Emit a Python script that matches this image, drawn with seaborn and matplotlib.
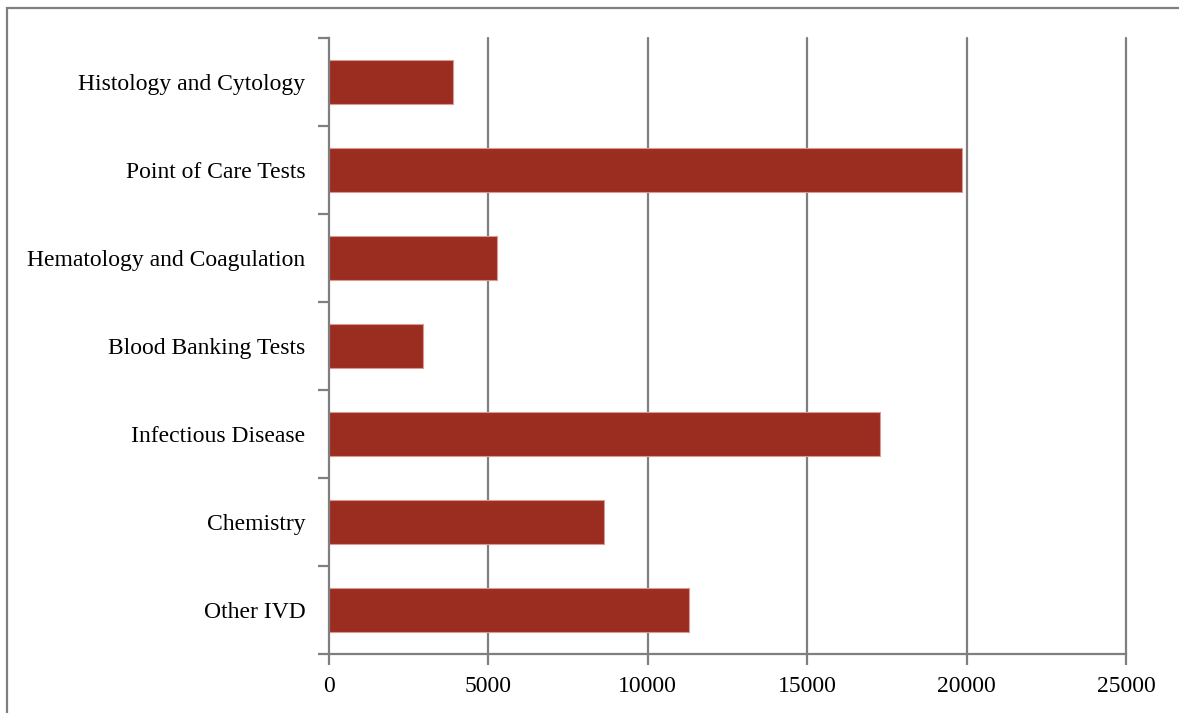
import matplotlib
matplotlib.use("Agg")
import matplotlib.pyplot as plt
import seaborn as sns
import pandas as pd
import numpy as np
from matplotlib.patches import Rectangle
from matplotlib.ticker import FixedLocator

categories = ["Histology and Cytology", "Point of Care Tests", "Hematology and Coagulation",
              "Blood Banking Tests", "Infectious Disease", "Chemistry", "Other IVD"]
values = [3900, 19850, 5280, 2960, 17270, 8630, 11280]
x_ticks = [0, 5000, 10000, 15000, 20000, 25000]

sns.set_theme(style="white")
plt.rcParams['font.family'] = ['Liberation Serif', 'DejaVu Serif']

df = pd.DataFrame({"category": categories, "value": values})

fig = plt.figure(figsize=(11.79, 7.13), dpi=100)
ax = fig.add_axes([329/1179, 1 - 654/713, (1126 - 329)/1179, (654 - 38)/713])

sns.barplot(data=df, y="category", x="value", orient="h", color="#9B2D20",
            width=0.5, edgecolor="#d89a92", linewidth=0.8, saturation=1, ax=ax)

grey = "#7f7f7f"
ax.set_xlim(0, 25000)
ax.set_ylim(len(categories) - 0.5, -0.5)
ax.set_xticks(x_ticks)
ax.set_xticklabels([str(t) for t in x_ticks])
ax.set_xlabel("")
ax.set_ylabel("")
for t in x_ticks[1:]:
    ax.axvline(t, color=grey, lw=1.6, zorder=0, clip_on=False)

for s in ["top", "right"]:
    ax.spines[s].set_visible(False)
for s in ["left", "bottom"]:
    ax.spines[s].set_color(grey)
    ax.spines[s].set_linewidth(1.6)

ax.yaxis.set_minor_locator(FixedLocator(np.arange(-0.5, len(categories), 1.0)))
ax.tick_params(axis="y", which="major", length=0, pad=17, labelsize=17, colors="black")
ax.tick_params(axis="y", which="minor", length=8, width=1.6, color=grey, left=True)
ax.tick_params(axis="x", which="major", length=8, width=1.6, color=grey, bottom=True,
               pad=8, labelsize=17, labelcolor="black")

fig.patches.append(Rectangle((7/1179, -0.1), 1.2, 1 - 8/713 + 0.1, transform=fig.transFigure,
                             fill=False, edgecolor=grey, linewidth=1.6))

fig.savefig("out.png", dpi=100)
